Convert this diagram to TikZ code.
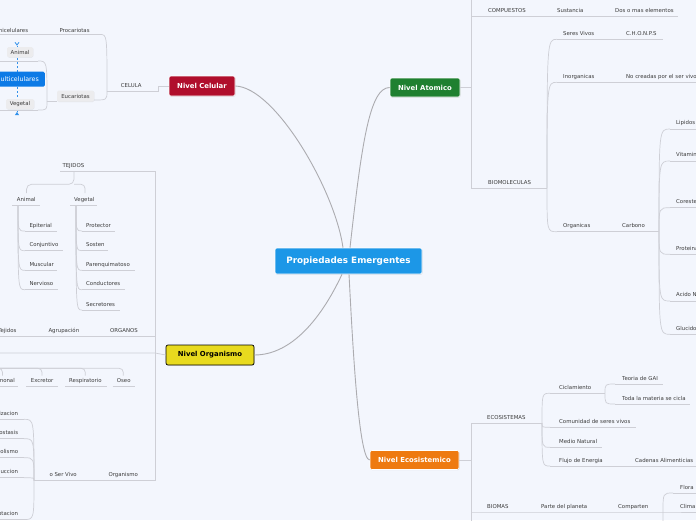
\documentclass[tikz,border=0pt]{standalone}
\usepackage{fontspec}
\setmainfont{DejaVu Sans}
\usetikzlibrary{shadows,arrows.meta}
\definecolor{bgc}{RGB}{243,246,253}
\definecolor{txt}{RGB}{60,60,60}
\definecolor{ulc}{RGB}{206,207,214}
\definecolor{mainc}{RGB}{172,172,176}
\definecolor{cblue}{RGB}{28,151,231}
\definecolor{cred}{RGB}{176,14,44}
\definecolor{cgreen}{RGB}{31,128,48}
\definecolor{cyellow}{RGB}{232,218,30}
\definecolor{corange}{RGB}{238,122,16}
\definecolor{mblue}{RGB}{12,122,230}
\definecolor{rblue}{RGB}{50,145,235}
\definecolor{boxg}{RGB}{236,236,238}
\newcommand\tR[4]{\node[lbl,anchor=base west] (#1) at (#2,#3) {#4};}
\newcommand\tL[4]{\node[lbl,anchor=base east] (#1) at (#2,#3) {#4};}
\newcommand\brc[2]{\draw[ul] (#1) .. controls (#1 |- #2) and (#1 |- #2) .. (#2);}
\begin{document}
\begin{tikzpicture}[x=1pt,y=-1pt,
  lbl/.style={font=\fontsize{5.4}{6}\selectfont, text=txt, inner sep=0pt},
  ul/.style={draw=ulc, line width=0.7pt},
  mainline/.style={draw=mainc, line width=0.9pt},
  level/.style={rounded corners=2pt, draw=white, line width=0.6pt, text=white,
    font=\fontsize{6.9}{8}\selectfont\bfseries, inner sep=0pt,
    drop shadow={opacity=0.25,shadow xshift=0.5pt,shadow yshift=-0.7pt}},
  gbox/.style={fill=boxg, rounded corners=1.5pt, font=\fontsize{5.4}{6}\selectfont,
    text=txt, inner sep=0pt,
    drop shadow={opacity=0.15,shadow xshift=0.4pt,shadow yshift=-0.5pt}},
  rel/.style={draw=rblue, line width=0.7pt, dash pattern=on 2.2pt off 1.8pt}
]
\useasboundingbox[fill=bgc] (0,0) rectangle (696,520);
\clip (0,0) rectangle (696,520);

% ---------------- level nodes ----------------
\node[level, fill=cblue, minimum width=147pt, minimum height=26pt,
  font=\fontsize{8.8}{10}\selectfont\bfseries] (pe) at (348.5,261) {Propiedades Emergentes};
\node[level, fill=cred, minimum width=66pt, minimum height=20pt] (cel) at (202,86) {Nivel Celular};
\node[level, fill=cgreen, minimum width=70pt, minimum height=19pt] (ato) at (425,87.5) {Nivel Atomico};
\node[level, fill=cyellow, draw=black, text=black, line width=0.7pt,
  minimum width=88pt, minimum height=20pt] (org) at (210,355) {Nivel Organismo};
\node[level, fill=corange, minimum width=89pt, minimum height=19pt] (eco) at (414.5,460) {Nivel Ecosistemico};

\draw[mainline] ([xshift=-5.5pt]pe.north) .. controls (335,190) and (275,87) .. (cel.east);
\draw[mainline] ([xshift=1.5pt]pe.north) .. controls (362,140) and (370,87.5) .. (ato.west);
\draw[mainline] ([xshift=-6.5pt]pe.south) .. controls (330,300) and (300,355) .. (org.east);
\draw[mainline] ([xshift=0.5pt]pe.south) .. controls (352,330) and (358,460) .. (eco.west);

% ---------------- Nivel Atomico ----------------
\coordinate (atS) at (471,87.5);
\coordinate (bio) at (547,188.3);
\draw[ul] (ato.east) -- (atS);
\draw[ul] (471,-2) -- (471,188.3) -- (bio);
\draw[ul] (471,16) -- (678,16);
\tR{comp}{488}{12}{COMPUESTOS}
\tR{sust}{557}{12}{Sustancia}
\tR{dos}{615}{12}{Dos o mas elementos}
\tR{biomol}{488}{184.3}{BIOMOLECULAS}
\coordinate (sv) at (557,39.3);
\coordinate (inorg) at (557,82.3);
\coordinate (orgc) at (557,231.7);
\coordinate (carb) at (659,231.7);
\brc{bio}{sv}
\brc{bio}{inorg}
\brc{bio}{orgc}
\draw[ul] (sv) -- (663,39.3);
\draw[ul] (inorg) -- (700,82.3);
\draw[ul] (orgc) -- (carb);
\tR{seres}{563}{35.3}{Seres Vivos}
\tR{chon}{626}{35.3}{C.H.O.N.P.S}
\tR{inorgt}{563}{78.3}{Inorganicas}
\tR{nocre}{626}{78.3}{No creadas por el ser vivo}
\tR{organ}{563}{227.7}{Organicas}
\tR{carbt}{622}{227.7}{Carbono}
\foreach \yy/\nm/\tx in {129/lip/Lipidos, 161/vit/Vitaminas, 207.7/cor/Coresterol,
   254.3/pro/Proteinas, 301/aci/Acido Nucleico, 334.3/glu/Glucidos}{
  \coordinate (\nm) at (670,\yy);
  \brc{carb}{\nm}
  \draw[ul] (\nm) -- (700,\yy);
  \node[lbl,anchor=base west] (\nm t) at (676,\yy-4.3) {\tx};
}

% ---------------- Nivel Ecosistemico ----------------
\coordinate (ecS) at (471,460);
\coordinate (ecos) at (542,423);
\draw[ul] (eco.east) -- (ecS);
\draw[ul] (ecos) -- (471,423) -- (471,525);
\tR{ecost}{487}{419}{ECOSISTEMAS}
\coordinate (cic) at (550,393.3);
\coordinate (cicE) at (605,393.3);
\coordinate (comu) at (550,427.3);
\coordinate (medio) at (550,447.3);
\coordinate (flujo) at (550,466);
\brc{ecos}{cic}
\brc{ecos}{comu}
\brc{ecos}{medio}
\brc{ecos}{flujo}
\draw[ul] (cic) -- (cicE);
\draw[ul] (comu) -- (636,427.3);
\draw[ul] (medio) -- (602,447.3);
\draw[ul] (flujo) -- (700,466);
\tR{cict}{559}{389.3}{Ciclamiento}
\tR{comut}{559}{423.3}{Comunidad de seres vivos}
\tR{mediot}{559}{443.3}{Medio Natural}
\tR{flujot}{559}{462}{Flujo de Energia}
\tR{cadt}{635}{462}{Cadenas Alimenticias}
\coordinate (teo) at (615,384);
\coordinate (toda) at (615,404);
\brc{cicE}{teo}
\brc{cicE}{toda}
\draw[ul] (teo) -- (663,384);
\draw[ul] (toda) -- (690,404);
\tR{teot}{622}{380}{Teoria de GAI}
\tR{todat}{622}{400}{Toda la materia se cicla}
\coordinate (compB) at (663,512);
\draw[ul] (471,512) -- (compB) -- (700,512);
\tR{biomt}{487}{508}{BIOMAS}
\tR{partet}{541}{508}{Parte del planeta}
\tR{compt}{618}{508}{Comparten}
\coordinate (flora) at (673,493);
\coordinate (downc) at (673,536);
\brc{compB}{flora}
\brc{compB}{downc}
\draw[ul] (flora) -- (700,493);
\tR{florat}{680}{489}{Flora}
\tR{climat}{680}{508}{Clima}

% ---------------- Nivel Organismo ----------------
\coordinate (orgS) at (155,353);
\draw[ul] (org.west) -- (orgS) -- (-5,353);
\coordinate (svB) at (34,480.7);
\draw[ul] (60,171.7) -- (155,171.7) -- (155,480.7) -- (svB);
\tR{tejt}{62.3}{167.5}{TEJIDOS}
\coordinate (tj) at (74,171.7);
\draw[ul, rounded corners=5pt] (tj) -- (74,184.3) -| (26.5,193);
\draw[ul, rounded corners=4pt] (74,184.3) -| (85,193);
\tR{animt}{16.7}{201.7}{Animal}
\tR{veget}{74}{201.7}{Vegetal}
\draw[ul] (12,205.7) -- (40,205.7);
\draw[ul] (70,205.7) -- (97,205.7);
\coordinate (anB) at (18,205.7);
\coordinate (veB) at (76,205.7);
\foreach \yy/\nm/\tx/\xe in {231/epi/Epiterial/57, 250.7/con/Conjuntivo/63,
   270.3/mus/Muscular/57.3, 289.7/ner/Nervioso/58}{
  \coordinate (\nm) at (25,\yy);
  \brc{anB}{\nm}
  \draw[ul] (\nm) -- (\xe,\yy);
  \node[lbl,anchor=base west] (\nm t) at (29.3,\yy-4) {\tx};
}
\foreach \yy/\nm/\tx/\xe in {231/prot/Protector/115, 250.7/sos/Sosten/108,
   270.3/par/Parenquimatoso/135, 289.7/cond/Conductores/125, 310/sec/Secretores/120}{
  \coordinate (\nm) at (82,\yy);
  \brc{veB}{\nm}
  \draw[ul] (\nm) -- (\xe,\yy);
  \node[lbl,anchor=base west] (\nm t) at (86,\yy-4) {\tx};
}
% ORGANOS row
\draw[ul] (-5,336.7) -- (155,336.7);
\tL{tejt2}{16.7}{332.7}{Tejidos}
\tR{agrt}{48.3}{332.7}{Agrupación}
\tR{orgat}{110}{332.7}{ORGANOS}
% sistemas row
\foreach \xx in {2.5,42,85.3,123.3}{
  \draw[ul, rounded corners=4pt] (-5,368.3) -| (\xx,375.5);
}
\tL{hort}{15}{382.7}{Hormonal}
\tR{exct}{30.7}{382.7}{Excretor}
\tR{rest}{69}{382.7}{Respiratorio}
\tR{oset}{116.7}{382.7}{Oseo}
\draw[ul] (-5,386.7) -- (18.3,386.7);
\draw[ul] (26,386.7) -- (58.3,386.7);
\draw[ul] (65,386.7) -- (106.7,386.7);
\draw[ul] (112.7,386.7) -- (135,386.7);
% ser vivo
\tR{svt}{49.3}{476.7}{o Ser Vivo}
\tR{organt}{108.3}{476.7}{Organismo}
\foreach \yy/\nm/\tx in {419.3/orgz/Organizacion, 438.7/hom/Homeostasis,
   457.7/met/Metabolismo, 477.7/rep/Reproduccion, 519.5/ada/Adaptacion}{
  \coordinate (\nm) at (24,\yy);
  \brc{svB}{\nm}
  \draw[ul] (\nm) -- (-5,\yy);
  \node[lbl,anchor=base east] (\nm t) at (18.3,\yy-4) {\tx};
}

% ---------------- Nivel Celular ----------------
\coordinate (celB) at (107,91);
\draw[ul] (cel.west) -- (158,86) -- (158,91) -- (celB);
\tR{celt}{120.7}{87.5}{CELULA}
\coordinate (proc) at (100,34.5);
\coordinate (eucE) at (94,100);
\brc{celB}{proc}
\brc{celB}{eucE}
\draw[ul] (proc) -- (-5,34.5);
\tR{proct}{59.3}{32}{Procariotas}
\tL{unit}{28.3}{32}{Unicelulares}
\coordinate (euL) at (47,101);
\coordinate (anU) at (38,61);
\coordinate (veU) at (38,110);
\draw[ul] (57,101) -- (euL);
\brc{euL}{anU}
\brc{euL}{veU}
\draw[ul] (anU) -- (-5,61);
\draw[ul] (veU) -- (-5,110);
\node[gbox, minimum width=37pt, minimum height=11pt] (euc) at (75.5,96) {Eucariotas};
% relations
\draw[rel] (17,72) -- (17,45);
\draw[rel] (17,87) -- (17,112);
\draw[rblue, line width=0.8pt] (15,42.3) -- (17,45) -- (19,42.3);
\fill[rblue] (15,115) -- (19,115) -- (17,111.8) -- cycle;
\node[gbox, minimum width=26pt, minimum height=10pt] (animb) at (20,52) {Animal};
\node[gbox, minimum width=28pt, minimum height=10pt] (vegb) at (20,104) {Vegetal};
\node[fill=mblue, rounded corners=1.5pt, anchor=east, minimum height=15pt, inner xsep=6pt,
  text=white, font=\fontsize{6.3}{8}\selectfont] (multi) at (45,79.2) {Multicelulares};
\end{tikzpicture}
\end{document}
